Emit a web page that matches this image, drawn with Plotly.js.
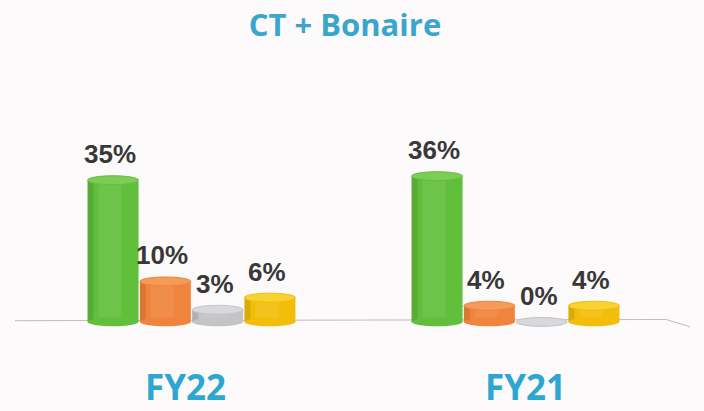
<!DOCTYPE html>
<html>
<head>
<meta charset="utf-8">
<script src="https://cdn.plot.ly/plotly-3.0.1.min.js"></script>
<style>html,body{margin:0;padding:0;background:#fcfafa;}#chart{width:704px;height:411px;}</style>
</head>
<body>
<div id="chart"></div>
<script>
// Data
var categories = ["FY22", "FY21"];
var seriesNames = ["Series 1", "Series 2", "Series 3", "Series 4"];
var values1 = [35, 36];
var values2 = [10, 4];
var values3 = [3, 0];
var values4 = [6, 4];
var chartTitle = "CT + Bonaire";

// Styling / layout
var allValues = [values1, values2, values3, values4];
var sideColors = ["#62bf3c", "#f0843c", "#c4c4c8", "#f2be0a"];
var capColors = ["#7ccd55", "#f59a58", "#d8d8dc", "#f7d232"];
var groupCenters = [191.5, 515.5];
var labelCenters = [185, 525];
var barStep = 52.3;
var barWidth = 51;
var capHalf = 1.1; // y units

var traces = [];
var shapes = [];
var annotations = [];

allValues.forEach(function (vals, s) {
  var xs = groupCenters.map(function (c) { return c + (s - 1.5) * barStep; });
  traces.push({
    type: "bar",
    x: xs,
    y: vals,
    width: barWidth,
    marker: { color: sideColors[s], line: { width: 0 } },
    name: seriesNames[s],
    hoverinfo: "skip",
    showlegend: false
  });
  // subtle shading: darker left edge, softer highlight
  traces.push({
    type: "bar",
    x: xs.map(function (x) { return x - barWidth / 2 + 3; }),
    y: vals,
    width: 6,
    marker: { color: "rgba(0,0,0,0.10)", line: { width: 0 } },
    hoverinfo: "skip",
    showlegend: false
  });
  traces.push({
    type: "bar",
    x: xs.map(function (x) { return x - 3; }),
    y: vals,
    width: barWidth * 0.45,
    marker: { color: "rgba(255,255,255,0.08)", line: { width: 0 } },
    hoverinfo: "skip",
    showlegend: false
  });
  xs.forEach(function (x, i) {
    var v = vals[i];
    shapes.push({
      type: "circle", xref: "x", yref: "y", layer: "above",
      x0: x - barWidth / 2, x1: x + barWidth / 2,
      y0: -capHalf, y1: capHalf,
      fillcolor: sideColors[s], line: { width: 0 }
    });
    shapes.push({
      type: "circle", xref: "x", yref: "y", layer: "above",
      x0: x - barWidth / 2, x1: x + barWidth / 2,
      y0: v - capHalf, y1: v + capHalf,
      fillcolor: capColors[s], line: { color: sideColors[s], width: 1 }
    });
    annotations.push({
      xref: "x", yref: "y", x: x, y: v,
      yanchor: "bottom", yshift: 9, xshift: -3,
      text: "<b>" + v + "%</b>", showarrow: false,
      font: { family: "Liberation Sans, Arial, sans-serif", size: 26, color: "#383838" }
    });
  });
});

// floor line
shapes.unshift({
  type: "path", xref: "x", yref: "y", layer: "below",
  path: "M 15 0.3 L 666 0.6 L 690 -1.2",
  line: { color: "#c8b8b8", width: 1 }
});

categories.forEach(function (c, i) {
  annotations.push({
    xref: "x", yref: "paper", x: labelCenters[i], y: 0.06,
    yanchor: "middle", text: "<b>" + c + "</b>", showarrow: false,
    font: { family: "Open Sans, Liberation Sans, sans-serif", size: 35, color: "#2ea6d2" }
  });
});

var layout = {
  width: 704, height: 411,
  margin: { l: 0, r: 0, t: 0, b: 0 },
  paper_bgcolor: "#fcfafa", plot_bgcolor: "#fcfafa",
  title: {
    text: "<b>" + chartTitle + "</b>",
    x: 0.49, xanchor: "center", y: 0.94, yanchor: "middle",
    font: { family: "Open Sans, Liberation Sans, sans-serif", size: 31, color: "#3aa6cc" }
  },
  barmode: "overlay",
  xaxis: { range: [0, 704], visible: false, fixedrange: true },
  yaxis: { range: [-22, 79.5], visible: false, fixedrange: true },
  shapes: shapes,
  annotations: annotations,
  showlegend: false
};

Plotly.newPlot("chart", traces, layout, { displayModeBar: false, staticPlot: true });
</script>
</body>
</html>
